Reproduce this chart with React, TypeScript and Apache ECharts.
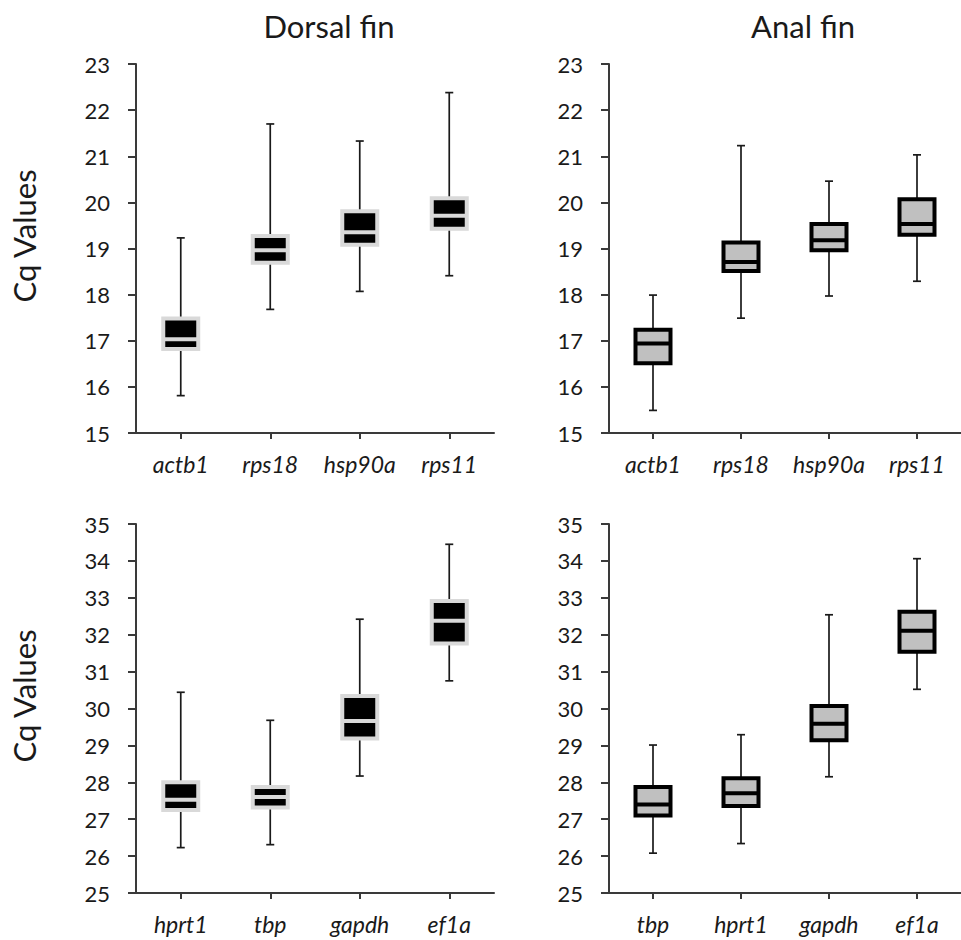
import React, { useEffect, useRef } from 'react';
import * as echarts from 'echarts';

// Panel A (top-left): Dorsal fin, reference genes
const dorsalRefGenes = ['actb1', 'rps18', 'hsp90a', 'rps11'];
// [min, Q1, median, Q3, max]
const dorsalRefStats = [
  [15.81, 16.82, 17.03, 17.48, 19.23],
  [17.68, 18.69, 18.96, 19.27, 21.7],
  [18.07, 19.08, 19.35, 19.81, 21.33],
  [18.41, 19.43, 19.71, 20.09, 22.38],
];
// Panel B (top-right): Anal fin
const analRefGenes = ['actb1', 'rps18', 'hsp90a', 'rps11'];
const analRefStats = [
  [15.49, 16.51, 16.94, 17.24, 17.99],
  [17.49, 18.51, 18.71, 19.13, 21.23],
  [17.97, 18.96, 19.18, 19.53, 20.46],
  [18.29, 19.3, 19.53, 20.07, 21.03],
];
// Panel C (bottom-left): Dorsal fin
const dorsalLowGenes = ['hprt1', 'tbp', 'gapdh', 'ef1a'];
const dorsalLowStats = [
  [26.23, 27.25, 27.53, 28.0, 30.44],
  [26.31, 27.32, 27.6, 27.87, 29.68],
  [28.17, 29.19, 29.66, 30.34, 32.42],
  [30.75, 31.76, 32.38, 32.91, 34.45],
];
// Panel D (bottom-right): Anal fin
const analLowGenes = ['tbp', 'hprt1', 'gapdh', 'ef1a'];
const analLowStats = [
  [26.08, 27.1, 27.4, 27.87, 29.01],
  [26.34, 27.36, 27.7, 28.11, 29.29],
  [28.15, 29.14, 29.59, 30.07, 32.54],
  [30.52, 31.54, 32.11, 32.62, 34.06],
];

const topAxisMin = 15;
const topAxisMax = 23;
const bottomAxisMin = 25;
const bottomAxisMax = 35;

const panelTitles = ['Dorsal fin', 'Anal fin'];
const yAxisTitle = 'Cq Values';

const FONT = 'Lato, "Noto Sans", sans-serif';
const AXIS_COLOR = '#3a3a3a';
const TEXT_COLOR = '#1a1a1a';

const makeRender = (fill: string, stroke: string) => (params: any, api: any) => {
  const x = api.value(0);
  const pMin = api.coord([x, api.value(1)]);
  const pQ1 = api.coord([x, api.value(2)]);
  const pMed = api.coord([x, api.value(3)]);
  const pQ3 = api.coord([x, api.value(4)]);
  const pMax = api.coord([x, api.value(5)]);
  const bw = 35;
  const cap = 8;
  const cx = pMed[0];
  const wStyle = { stroke: '#1a1a1a', lineWidth: 1.7 };
  return {
    type: 'group',
    children: [
      { type: 'line', shape: { x1: cx, y1: pMin[1], x2: cx, y2: pMax[1] }, style: wStyle },
      { type: 'line', shape: { x1: cx - cap / 2, y1: pMin[1], x2: cx + cap / 2, y2: pMin[1] }, style: wStyle },
      { type: 'line', shape: { x1: cx - cap / 2, y1: pMax[1], x2: cx + cap / 2, y2: pMax[1] }, style: wStyle },
      {
        type: 'rect',
        shape: { x: cx - bw / 2, y: pQ3[1], width: bw, height: pQ1[1] - pQ3[1] },
        style: { fill, stroke, lineWidth: 4 },
      },
      {
        type: 'line',
        shape: { x1: cx - bw / 2, y1: pMed[1], x2: cx + bw / 2, y2: pMed[1] },
        style: { stroke, lineWidth: 4 },
      },
    ],
  };
};

const toData = (stats: number[][]) => stats.map((s, i) => [i, ...s]);

export default function App() {
  const ref = useRef<HTMLDivElement>(null);
  useEffect(() => {
    document.body.style.margin = '0';
    if (!ref.current) return;
    const chart = echarts.init(ref.current, null, { renderer: 'svg' });
    const grids = [
      { left: 136, top: 64, width: 358, height: 369 },
      { left: 609, top: 64, width: 358, height: 369 },
      { left: 136, top: 524, width: 358, height: 369 },
      { left: 609, top: 524, width: 358, height: 369 },
    ];
    const genes = [dorsalRefGenes, analRefGenes, dorsalLowGenes, analLowGenes];
    const stats = [dorsalRefStats, analRefStats, dorsalLowStats, analLowStats];
    const ranges = [
      [topAxisMin, topAxisMax],
      [topAxisMin, topAxisMax],
      [bottomAxisMin, bottomAxisMax],
      [bottomAxisMin, bottomAxisMax],
    ];
    const xAxis = genes.map((g, i) => ({
      type: 'category',
      gridIndex: i,
      data: g,
      boundaryGap: true,
      axisLine: { show: true, lineStyle: { color: AXIS_COLOR, width: 2 } },
      axisTick: { show: true, alignWithLabel: true, length: 6, lineStyle: { color: AXIS_COLOR, width: 2 } },
      axisLabel: {
        interval: 0,
        hideOverlap: false,
        fontStyle: 'italic',
        fontSize: 23,
        fontFamily: FONT,
        color: TEXT_COLOR,
        margin: 19,
      },
      splitLine: { show: false },
    }));
    const yAxis = ranges.map((r, i) => ({
      type: 'value',
      gridIndex: i,
      min: r[0],
      max: r[1],
      interval: 1,
      axisLine: { show: true, lineStyle: { color: AXIS_COLOR, width: 2 } },
      axisTick: { show: true, length: 8, lineStyle: { color: AXIS_COLOR, width: 2 } },
      axisLabel: { fontSize: 22, fontFamily: FONT, color: TEXT_COLOR, margin: 26 },
      splitLine: { show: false },
    }));
    const styles = [
      ['#000000', '#d9d9d9'],
      ['#c0c0c0', '#000000'],
      ['#000000', '#d9d9d9'],
      ['#c0c0c0', '#000000'],
    ];
    const series = stats.map((s, i) => ({
      type: 'custom',
      xAxisIndex: i,
      yAxisIndex: i,
      renderItem: makeRender(styles[i][0], styles[i][1]),
      encode: { x: 0, y: [1, 2, 3, 4, 5] },
      data: toData(s),
    }));
    const titleFont = `31px ${FONT}`;
    chart.setOption({
      animation: false,
      grid: grids,
      xAxis,
      yAxis,
      series,
      graphic: [
        {
          type: 'text',
          x: 329,
          y: 26,
          style: { text: panelTitles[0], font: titleFont, fill: TEXT_COLOR, textAlign: 'center', textVerticalAlign: 'middle' },
        },
        {
          type: 'text',
          x: 803,
          y: 26,
          style: { text: panelTitles[1], font: titleFont, fill: TEXT_COLOR, textAlign: 'center', textVerticalAlign: 'middle' },
        },
        {
          type: 'text',
          x: 24,
          y: 236,
          rotation: Math.PI / 2,
          style: { text: yAxisTitle, font: titleFont, fill: TEXT_COLOR, textAlign: 'center', textVerticalAlign: 'middle' },
        },
        {
          type: 'text',
          x: 24,
          y: 696,
          rotation: Math.PI / 2,
          style: { text: yAxisTitle, font: titleFont, fill: TEXT_COLOR, textAlign: 'center', textVerticalAlign: 'middle' },
        },
      ],
    });
    return () => chart.dispose();
  }, []);
  return <div ref={ref} style={{ width: 961, height: 940 }} />;
}
